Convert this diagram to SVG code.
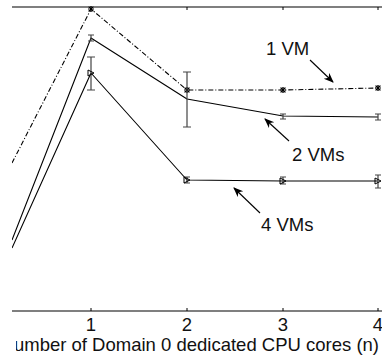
<svg xmlns="http://www.w3.org/2000/svg" width="382" height="356" viewBox="0 0 382 356">
  <style>
    .axis { stroke: #000; stroke-width: 1.2; fill: none; }
    .tick { stroke: #000; stroke-width: 1; }
    .series { fill: none; stroke: #000; stroke-width: 1.1; stroke-linejoin: round; }
    .dashdot { stroke-dasharray: 5 2 1 2; }
    .err { stroke: #444; stroke-width: 1.2; fill: none; }
    .tri { fill: none; stroke: #000; stroke-width: 1; }
    .star { stroke: #000; stroke-width: 1; }
    .lbl { font-family: "Liberation Sans", Arial, sans-serif; font-size: 18.5px; fill: #111; }
    .arrow { stroke: #000; stroke-width: 1.1; marker-end: url(#head); }
  </style>
  <defs>
    <marker id="head" viewBox="0 0 10 10" refX="9" refY="5" markerWidth="10" markerHeight="10" markerUnits="userSpaceOnUse" orient="auto">
      <path d="M0,1 L10,5 L0,9 L3,5 Z" fill="#000"/>
    </marker>
    <clipPath id="plot"><rect x="12" y="0" width="370" height="356"/></clipPath>
    <clipPath id="xlabel"><rect x="16" y="320" width="366" height="36"/></clipPath>
  </defs>
  <rect width="382" height="356" fill="#fff"/>

  <g id="axes">
    <line class="axis" x1="12" y1="7" x2="382" y2="7"/>
    <line class="axis" x1="12" y1="311" x2="382" y2="311"/>
    <g class="tick">
      <line x1="91" y1="7" x2="91" y2="10"/>
      <line x1="187" y1="7" x2="187" y2="10"/>
      <line x1="283" y1="7" x2="283" y2="10"/>
      <line x1="378" y1="7" x2="378" y2="10"/>
      <line x1="91" y1="311" x2="91" y2="308"/>
      <line x1="187" y1="311" x2="187" y2="308"/>
      <line x1="283" y1="311" x2="283" y2="308"/>
      <line x1="378" y1="311" x2="378" y2="308"/>
    </g>
    <g class="lbl" text-anchor="middle">
      <text x="91" y="331">1</text>
      <text x="187" y="331">2</text>
      <text x="283" y="331">3</text>
      <text x="378" y="331">4</text>
    </g>
    <text class="lbl" clip-path="url(#xlabel)" x="379" y="351" text-anchor="end" font-size="20px">Number of Domain 0 dedicated CPU cores (n)</text>
  </g>

  <g id="connectors" clip-path="url(#plot)">
    <!-- 1 VM: dash-dot line with asterisks -->
    <polyline class="series dashdot" points="12,163 91,9 187,90 283,90 378,88"/>
    <!-- 2 VMs: solid line -->
    <polyline class="series" points="12,240 91,38 187,99 283,116 378,117"/>
    <!-- 4 VMs: solid line with triangles -->
    <polyline class="series" points="12,248 91,73 187,180 283,181 378,181"/>
  </g>

  <g id="series-1vm">
    <path class="err" d="M91,7 V11 M88,7 H94 M88,11 H94 M187,88 V92 M184,88 H190 M184,92 H190 M283,88 V92 M280,88 H286 M280,92 H286 M378,86 V90 M375,86 H381 M375,90 H381"/>
    <path class="star" d="M88,9 H94 M91,6 V12 M89,7 L93,11 M93,7 L89,11 M184,90 H190 M187,87 V93 M185,88 L189,92 M189,88 L185,92 M280,90 H286 M283,87 V93 M281,88 L285,92 M285,88 L281,92 M375,88 H381 M378,85 V91 M376,86 L380,90 M380,86 L376,90"/>
  </g>

  <g id="series-2vms">
    <path class="err" d="M91,35 V41 M88,35 H94 M88,41 H94 M187,72 V127 M183,72 H191 M183,127 H191 M283,114 V119 M280,114 H286 M280,119 H286 M378,114 V120 M375,114 H381 M375,120 H381"/>
  </g>

  <g id="series-4vms">
    <path class="err" d="M91,57 V90 M87,57 H95 M87,90 H95 M187,177 V183 M184,177 H190 M184,183 H190 M283,177 V184 M280,177 H286 M280,184 H286 M378,175 V188 M375,175 H381 M375,188 H381"/>
    <path class="tri" d="M88,70 L94,73 L88,76 Z M184,177 L190,180 L184,183 Z M280,178 L286,181 L280,184 Z M375,178 L381,181 L375,184 Z"/>
  </g>

  <g id="label-1vm">
    <text class="lbl" x="266" y="55">1 VM</text>
    <line class="arrow" x1="310" y1="60" x2="333" y2="82"/>
  </g>
  <g id="label-2vms">
    <text class="lbl" x="292" y="161">2 VMs</text>
    <line class="arrow" x1="289" y1="141" x2="265" y2="119"/>
  </g>
  <g id="label-4vms">
    <text class="lbl" x="261" y="231">4 VMs</text>
    <line class="arrow" x1="260" y1="213" x2="234" y2="188"/>
  </g>
</svg>
